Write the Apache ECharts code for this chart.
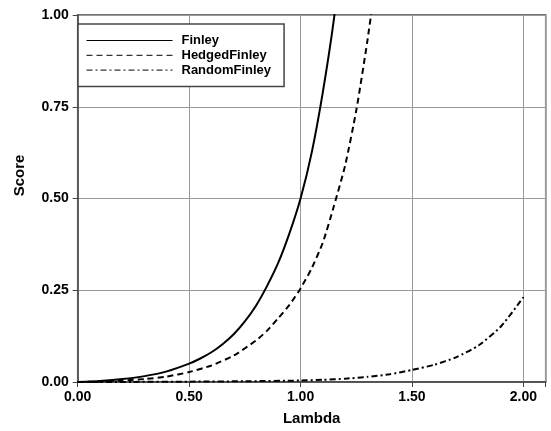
<!DOCTYPE html>
<html>
<head>
<meta charset="utf-8">
<script src="https://cdn.jsdelivr.net/npm/echarts@6/dist/echarts.min.js"></script>
<style>html,body{margin:0;padding:0;background:#fff;}#c{width:551px;height:431px;}</style>
</head>
<body>
<div id="c"></div>
<script>
var finleyX = [0, 0.1, 0.2, 0.3, 0.4, 0.5, 0.55, 0.6, 0.65, 0.7, 0.75, 0.8, 0.85, 0.9, 0.95, 1.0, 1.05, 1.1, 1.15, 1.2];
var finleyY = [0, 0.003, 0.008, 0.016, 0.029, 0.05, 0.064, 0.081, 0.103, 0.13, 0.165, 0.208, 0.262, 0.325, 0.405, 0.5, 0.625, 0.79, 0.99, 1.25];
var hedgedX = [0, 0.1, 0.2, 0.3, 0.4, 0.5, 0.6, 0.7, 0.8, 0.85, 0.9, 0.95, 1.0, 1.05, 1.1, 1.15, 1.2, 1.25, 1.3, 1.35];
var hedgedY = [0, 0.001, 0.004, 0.008, 0.015, 0.027, 0.045, 0.072, 0.113, 0.14, 0.174, 0.21, 0.255, 0.31, 0.38, 0.48, 0.59, 0.74, 0.93, 1.15];
var randomX = [0, 0.25, 0.5, 0.75, 1.0, 1.1, 1.2, 1.3, 1.4, 1.5, 1.6, 1.7, 1.8, 1.9, 2.0];
var randomY = [0, 0.0003, 0.001, 0.002, 0.004, 0.006, 0.009, 0.014, 0.021, 0.033, 0.047, 0.068, 0.1, 0.152, 0.231];
var seriesNames = ['Finley', 'HedgedFinley', 'RandomFinley'];
var xTicks = {min: 0, max: 2.1, interval: 0.5};
var yTicks = {min: 0, max: 1, interval: 0.25};

function pairs(xs, ys) { return xs.map(function (x, i) { return [x, ys[i]]; }); }

var FONT = 'Liberation Sans';
var chart = echarts.init(document.getElementById('c'), null, {renderer: 'canvas'});
chart.setOption({
  animation: false,
  backgroundColor: '#fff',
  grid: {left: 77.7, right: 5.3, top: 15, bottom: 42.3, show: true, borderColor: '#444', borderWidth: 1.5, containLabel: false},
  legend: {
    left: 78, top: 24,
    orient: 'vertical',
    data: seriesNames,
    backgroundColor: '#fff',
    borderColor: '#444', borderWidth: 1.5, borderRadius: 0,
    padding: [10, 13, 10, 8],
    itemWidth: 86, itemHeight: 14, itemGap: 1.8,
    lineStyle: {width: 1},
    itemStyle: {opacity: 0},
    textStyle: {fontFamily: FONT, fontWeight: 'bold', fontSize: 13, color: '#000', padding: [0, 0, 0, 4]}
  },
  xAxis: {
    type: 'value', min: xTicks.min, max: xTicks.max, interval: xTicks.interval,
    name: 'Lambda', nameLocation: 'middle', nameGap: 29,
    nameTextStyle: {fontFamily: FONT, fontWeight: 'bold', fontSize: 15, color: '#000'},
    axisLine: {show: true, lineStyle: {color: '#444', width: 1.5}},
    axisTick: {show: true, length: 5, lineStyle: {color: '#444'}},
    axisLabel: {margin: 8, fontFamily: FONT, fontWeight: 'bold', fontSize: 14, color: '#000',
      formatter: function (v) { return v > 2.05 ? '' : v.toFixed(2); }},
    splitLine: {show: true, lineStyle: {color: '#999', width: 1}}
  },
  yAxis: {
    type: 'value', min: yTicks.min, max: yTicks.max, interval: yTicks.interval,
    name: 'Score', nameLocation: 'middle', nameGap: 50, nameRotate: 90,
    nameTextStyle: {fontFamily: FONT, fontWeight: 'bold', fontSize: 15, color: '#000', padding: [0, 0, 0, 46]},
    axisLine: {show: true, lineStyle: {color: '#444', width: 1.5}},
    axisTick: {show: true, length: 5, lineStyle: {color: '#444'}},
    axisLabel: {margin: 9, fontFamily: FONT, fontWeight: 'bold', fontSize: 14, color: '#000',
      formatter: function (v) { return v.toFixed(2); }},
    splitLine: {show: true, lineStyle: {color: '#999', width: 1}}
  },
  series: [
    {name: seriesNames[0], type: 'line', data: pairs(finleyX, finleyY), smooth: 0.2, showSymbol: false, symbol: 'none',
      lineStyle: {color: '#000', width: 2, type: 'solid'}, itemStyle: {color: '#000'}},
    {name: seriesNames[1], type: 'line', data: pairs(hedgedX, hedgedY), smooth: 0.2, showSymbol: false, symbol: 'none',
      lineStyle: {color: '#000', width: 2, type: [6, 4]}, itemStyle: {color: '#000'}},
    {name: seriesNames[2], type: 'line', data: pairs(randomX, randomY), smooth: 0.2, showSymbol: false, symbol: 'none',
      lineStyle: {color: '#000', width: 2, type: [6, 3, 2, 3]}, itemStyle: {color: '#000'}}
  ]
});
</script>
</body>
</html>
